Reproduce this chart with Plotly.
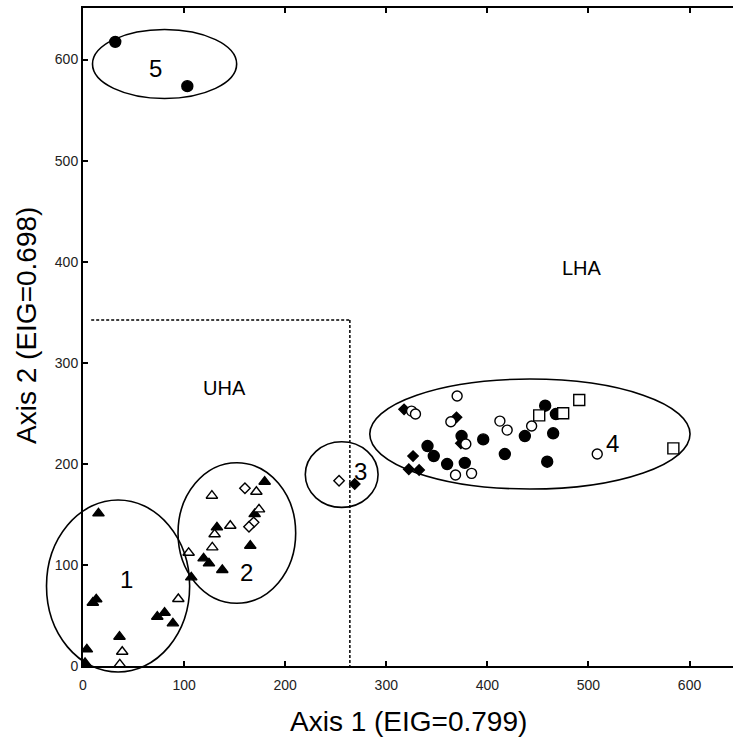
import plotly.graph_objects as go

# Ordination scores (Axis 1, Axis 2) grouped by symbol
tri_filled_x = [15.3, 9.7, 13.1, 73.5, 80.7, 88.9, 36.1, 3.8, 2.0, 107.1,
                179.7, 169.8, 132.5, 165.5, 119.3, 124.6, 137.8]
tri_filled_y = [151, 62.6, 66, 48.8, 52.7, 42.2, 29, 16.5, 3, 87.7,
                182.3, 150.3, 137.2, 119, 106.5, 101.6, 95]

tri_open_x = [94.3, 38.8, 36.4, 104.5, 127.5, 171.5, 174.1, 130.2, 145.7, 127.9]
tri_open_y = [66.3, 14.1, 1.7, 112, 168.5, 172.4, 155, 130.3, 138.8, 117.4]

dia_open_x = [160.2, 168.8, 164.2, 253.3]
dia_open_y = [175.8, 142.1, 137.8, 183.3]

dia_filled_x = [268.8, 317.6, 369.5, 373.8, 326.5, 322.3, 332.5]
dia_filled_y = [180, 253.9, 246, 220.3, 207.7, 194.6, 193.9]

circ_filled_x = [31.9, 103.2, 457.2, 467.8, 437.1, 465.1, 395.9, 374.5, 340.8,
                 347.0, 360.2, 377.7, 417.3, 459.2]
circ_filled_y = [617.5, 573.7, 257.5, 249.3, 227.5, 230.2, 224.2, 227.5, 217.6,
                 207.7, 199.8, 201.0, 209.7, 202.1]

circ_open_x = [325.0, 328.9, 370.1, 363.9, 412.4, 419.6, 443.8, 378.7, 368.5, 384.4, 508.7]
circ_open_y = [252.2, 249.3, 267.1, 241.7, 242.3, 233.4, 237.4, 219.6, 188.9, 190.6, 209.7]

sq_open_x = [451.3, 475.0, 490.9, 584.0]
sq_open_y = [248.0, 250.0, 263.1, 215.3]

# Group ellipses: centre and semi-axes in data units
ell_cx = [34.7, 152.2, 255.9, 442.1, 80.7]
ell_cy = [79.1, 131.6, 189.4, 229.5, 595.6]
ell_a = [70.8, 58.2, 36.0, 158.4, 71.3]
ell_b = [85.1, 69.5, 32.5, 54.4, 34.1]

group_names = ["1", "2", "3", "4", "5"]
group_lx = [42.8, 161.6, 274.5, 524.0, 71.5]
group_ly = [86.0, 92.3, 192.2, 220.3, 590.8]

zone_names = ["UHA", "LHA"]
zone_x = [140, 494]
zone_y = [275, 394]

# Boundary between the zones
bound_x = [8.1, 264, 264]
bound_y = [342.2, 342.2, 0]

tick_vals = [0, 100, 200, 300, 400, 500, 600]

X_RANGE = [0, 643]
Y_RANGE = [0, 651]

FONT = "Liberation Sans, Arial, sans-serif"

fig = go.Figure()


def add_points(xs, ys, symbol, size, filled):
    fig.add_trace(go.Scatter(
        x=xs, y=ys, mode="markers", showlegend=False,
        marker=dict(symbol=symbol, size=size,
                    color="black" if filled else "white",
                    line=dict(color="black", width=1.4)),
    ))


add_points(circ_filled_x, circ_filled_y, "circle", 11, True)
add_points(dia_filled_x, dia_filled_y, "diamond", 8, True)
add_points(tri_filled_x, tri_filled_y, "triangle-up", 10, True)
add_points(tri_open_x, tri_open_y, "triangle-up", 10, False)
add_points(dia_open_x, dia_open_y, "diamond", 8, False)
add_points(circ_open_x, circ_open_y, "circle", 10, False)
add_points(sq_open_x, sq_open_y, "square", 11, False)


def to_px(v, rng):
    return (v - rng[0]) / (rng[1] - rng[0])


shapes = []
# ellipses are placed in paper space so they may run past the axes
for cx, cy, a, b in zip(ell_cx, ell_cy, ell_a, ell_b):
    shapes.append(dict(
        type="circle", xref="paper", yref="paper",
        x0=to_px(cx - a, X_RANGE), x1=to_px(cx + a, X_RANGE),
        y0=to_px(cy - b, Y_RANGE), y1=to_px(cy + b, Y_RANGE),
        line=dict(color="black", width=1.6),
    ))

for i in range(len(bound_x) - 1):
    shapes.append(dict(
        type="line", xref="x", yref="y",
        x0=bound_x[i], y0=bound_y[i], x1=bound_x[i + 1], y1=bound_y[i + 1],
        line=dict(color="black", width=1.5, dash="3px,2px"),
    ))

annotations = []
for name, x, y in zip(group_names, group_lx, group_ly):
    annotations.append(dict(x=x, y=y, xref="x", yref="y", text=name,
                            showarrow=False, font=dict(size=24, color="black", family=FONT)))
for name, x, y in zip(zone_names, zone_x, zone_y):
    annotations.append(dict(x=x, y=y, xref="x", yref="y", text=name,
                            showarrow=False, font=dict(size=20, color="black", family=FONT)))

annotations.append(dict(x=0.5, y=-0.0851, xref="paper", yref="paper",
                        text="Axis 1 (EIG=0.799)", showarrow=False,
                        xanchor="center", yanchor="middle",
                        font=dict(size=28, color="black", family=FONT)))
annotations.append(dict(x=-0.088, y=0.518, xref="paper", yref="paper",
                        text="Axis 2 (EIG=0.698)", showarrow=False, textangle=-90,
                        xanchor="center", yanchor="middle",
                        font=dict(size=28, color="black", family=FONT)))

axis_common = dict(
    showgrid=False, zeroline=False, showline=True, linecolor="black", linewidth=2,
    ticks="inside", ticklen=5, tickwidth=1.5, tickcolor="black",
    tickvals=tick_vals, ticktext=[str(v) for v in tick_vals],
    tickfont=dict(size=14, color="#222", family=FONT),
)

fig.update_layout(
    width=733, height=740, autosize=False,
    margin=dict(l=83, r=0, t=8, b=74, pad=0),
    paper_bgcolor="white", plot_bgcolor="white",
    xaxis=dict(range=X_RANGE, mirror="ticks", ticklabelstandoff=5, **axis_common),
    yaxis=dict(range=Y_RANGE, mirror=False, **axis_common),
    shapes=shapes, annotations=annotations,
    showlegend=False,
)

fig.write_html("out.html")
